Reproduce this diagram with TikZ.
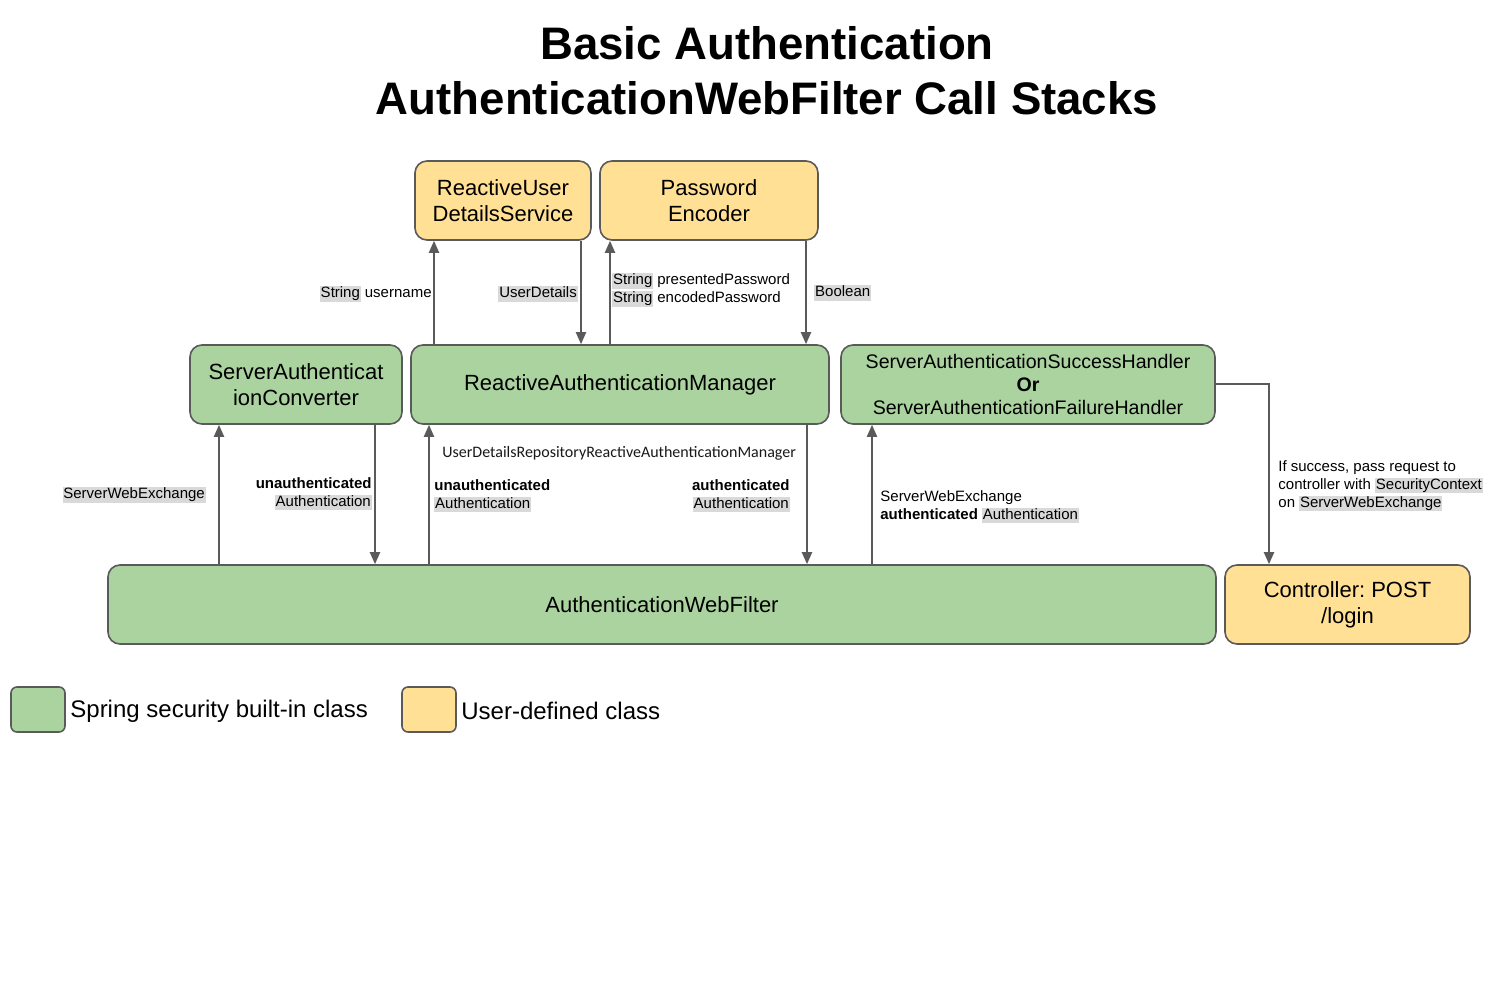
\documentclass[tikz,border=0pt]{standalone}
\usepackage{fontspec}
\setmainfont{Liberation Sans}
\newfontfamily\calfont{Carlito}
\usetikzlibrary{arrows.meta}
\frenchspacing
\definecolor{gfill}{HTML}{ABD3A0}
\definecolor{yfill}{HTML}{FFE094}
\definecolor{edge}{HTML}{5A5A5A}
\definecolor{hlg}{HTML}{D9D9D9}
\newcommand\hlw[1]{{\setlength{\fboxsep}{0.4pt}\colorbox{hlg}{\vphantom{Ag}#1}}}
\tikzset{
  box/.style={draw=edge, line width=0.8pt, rounded corners=6pt, align=center, inner sep=0pt,
    font=\fontsize{11}{13}\selectfont},
  gbox/.style={box, fill=gfill},
  ybox/.style={box, fill=yfill},
  arr/.style={draw=edge, line width=1pt, -{Triangle[length=6pt,width=5pt]}},
  lbl/.style={inner sep=0pt, font=\fontsize{7.5}{9}\selectfont},
  legbox/.style={draw=edge, line width=0.8pt, rounded corners=3pt, minimum width=27pt, minimum height=22.5pt, inner sep=0pt}
}
\begin{document}
\begin{tikzpicture}[x=0.5pt,y=-0.5pt]
\useasboundingbox[fill=white] (0,0) rectangle (1500,1000);
% title
\node[inner sep=0pt, align=center, font=\fontsize{22.8}{27.5}\selectfont\bfseries] (title) at (767,71)
  {Basic Authentication\\AuthenticationWebFilter Call Stacks};
% boxes
\node[ybox, minimum width=88pt, minimum height=39.5pt] (uds) at (503,200.5) {ReactiveUser\\DetailsService};
\node[ybox, minimum width=109pt, minimum height=39.5pt] (pe) at (709,200.5) {Password\\Encoder};
\node[gbox, minimum width=106pt, minimum height=39.5pt] (sac) at (296,384.5) {ServerAuthenticat\\ionConverter};
\node[gbox, minimum width=209pt, minimum height=39.5pt] (ram) at (620,384.5) {ReactiveAuthenticationManager};
\node[gbox, minimum width=187pt, minimum height=39.5pt, font=\fontsize{9.8}{11.5}\selectfont] (sh) at (1028,384.5)
  {ServerAuthenticationSuccessHandler\\\textbf{Or}\\ServerAuthenticationFailureHandler};
\node[gbox, minimum width=554pt, minimum height=39.5pt] (awf) at (662,604.5) {AuthenticationWebFilter};
\node[ybox, minimum width=122.5pt, minimum height=39.5pt] (ctl) at (1347.5,604.5) {Controller: POST\\/login};
% x positions
\coordinate (x1) at (434,0);
\coordinate (x2) at (581,0);
\coordinate (x3) at (610,0);
\coordinate (x4) at (806,0);
\coordinate (x5) at (219,0);
\coordinate (x6) at (375,0);
\coordinate (x7) at (429,0);
\coordinate (x8) at (807,0);
\coordinate (x9) at (872,0);
\coordinate (x10) at (1269,0);
% top arrows
\draw[arr] (ram.north -| x1) -- (uds.south -| x1);
\draw[arr] (uds.south -| x2) -- (ram.north -| x2);
\draw[arr] (ram.north -| x3) -- (pe.south -| x3);
\draw[arr] (pe.south -| x4) -- (ram.north -| x4);
% lower arrows
\draw[arr] (awf.north -| x5) -- (sac.south -| x5);
\draw[arr] (sac.south -| x6) -- (awf.north -| x6);
\draw[arr] (awf.north -| x7) -- (ram.south -| x7);
\draw[arr] (ram.south -| x8) -- (awf.north -| x8);
\draw[arr] (awf.north -| x9) -- (sh.south -| x9);
\draw[arr] (sh.east) -| (ctl.north -| x10);
% labels
\node[lbl, anchor=east] (l1) at (432,294) {\hlw{String} username};
\node[lbl, anchor=east] (l2) at (578,294) {\hlw{UserDetails}};
\node[lbl, anchor=west, align=left] (l3) at (612,290) {\hlw{String} presentedPassword\\\hlw{String} encodedPassword};
\node[lbl, anchor=west] (l4) at (814,293) {\hlw{Boolean}};
\node[lbl, anchor=east] (l5) at (206,495) {\hlw{ServerWebExchange}};
\node[lbl, anchor=east, align=right] (l6) at (372,494) {\textbf{unauthenticated}\\\hlw{Authentication}};
\node[lbl, anchor=west, align=left] (l7) at (434,496) {\textbf{unauthenticated}\\\hlw{Authentication}};
\node[inner sep=0pt, anchor=west, font=\calfont\fontsize{8}{9}\selectfont, text=black!90] (l7b) at (442,453) {UserDetailsRepositoryReactiveAuthenticationManager};
\node[lbl, anchor=east, align=right] (l8) at (790,496) {\textbf{authenticated}\\\hlw{Authentication}};
\node[lbl, anchor=west, align=left] (l9) at (880,507) {ServerWebExchange\\\textbf{authenticated} \hlw{Authentication}};
\node[lbl, anchor=west, align=left] (l10) at (1278,486) {If success, pass request to\\controller with \hlw{SecurityContext}\\on \hlw{ServerWebExchange}};
% legend
\node[legbox, fill=gfill] (lg1) at (38,709.5) {};
\node[inner sep=0pt, anchor=west, font=\fontsize{12}{14}\selectfont] (lt1) at (70,711) {Spring security built-in class};
\node[legbox, fill=yfill] (lg2) at (429,709.5) {};
\node[inner sep=0pt, anchor=west, font=\fontsize{12}{14}\selectfont] (lt2) at (461,711) {User-defined class};
\end{tikzpicture}
\end{document}
